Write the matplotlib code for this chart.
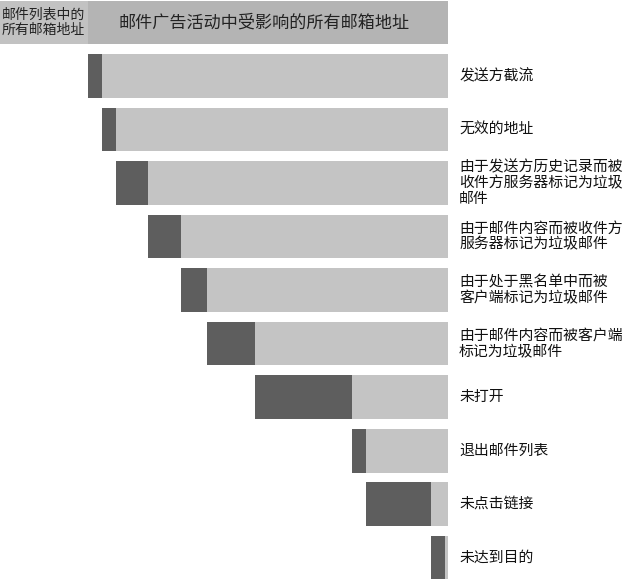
import matplotlib
matplotlib.use("Agg")
import matplotlib.pyplot as plt
import numpy as np

plt.rcParams['font.family'] = ['Noto Sans CJK SC', 'DejaVu Sans']

# 各环节流失的邮箱地址占比（%，相对于受影响的所有邮箱地址）
labels = ["发送方截流", "无效的地址", "由于发送方历史记录而被\n收件方服务器标记为垃圾\n邮件",
          "由于邮件内容而被收件方\n服务器标记为垃圾邮件", "由于处于黑名单中而被\n客户端标记为垃圾邮件",
          "由于邮件内容而被客户端\n标记为垃圾邮件", "未打开", "退出邮件列表", "未点击链接", "未达到目的"]
losses = [3.9, 3.9, 8.9, 9.2, 7.2, 13.3, 26.9, 3.9, 18.1, 3.9]
list_share = 24.4  # 邮件列表中的所有邮箱地址（表头左侧部分）
header_left = "邮件列表中的\n所有邮箱地址"
header_right = "邮件广告活动中受影响的所有邮箱地址"

dark = "#5e5e5e"
light = "#c4c4c4"
head = "#b4b4b4"

fig = plt.figure(figsize=(6.28, 5.79), dpi=100)
ax = fig.add_axes([0, 0, 448 / 628, 1])

y = np.arange(len(losses))
starts = np.concatenate([[0], np.cumsum(losses)[:-1]])
h = 0.82

# 表头
ax.barh(-1, list_share, left=-list_share, height=h, color="#c2c2c2")
ax.barh(-1, 100, left=0, height=h, color=head)
ax.text(-list_share + 0.5, -1, header_left, ha="left", va="center", fontsize=10,
        linespacing=1.15, color="#222222")
ax.text(49, -1, header_right, ha="center", va="center", fontsize=12.3, color="#222222")

# 流失部分 + 剩余部分
ax.barh(y, losses, left=starts, height=h, color=dark)
ax.barh(y, 100 - starts - losses, left=starts + np.array(losses), height=h, color=light)

for yi, lab in zip(y, labels):
    ax.annotate(lab, xy=(100, yi), xytext=(8, 0), textcoords="offset points",
                ha="left", va="center", fontsize=10.7, linespacing=1.15,
                color="#111111", annotation_clip=False)

ax.set_xlim(-list_share, 100)
ax.set_ylim(9.40, -1.42)
ax.axis("off")

fig.savefig("out.png", dpi=100)
